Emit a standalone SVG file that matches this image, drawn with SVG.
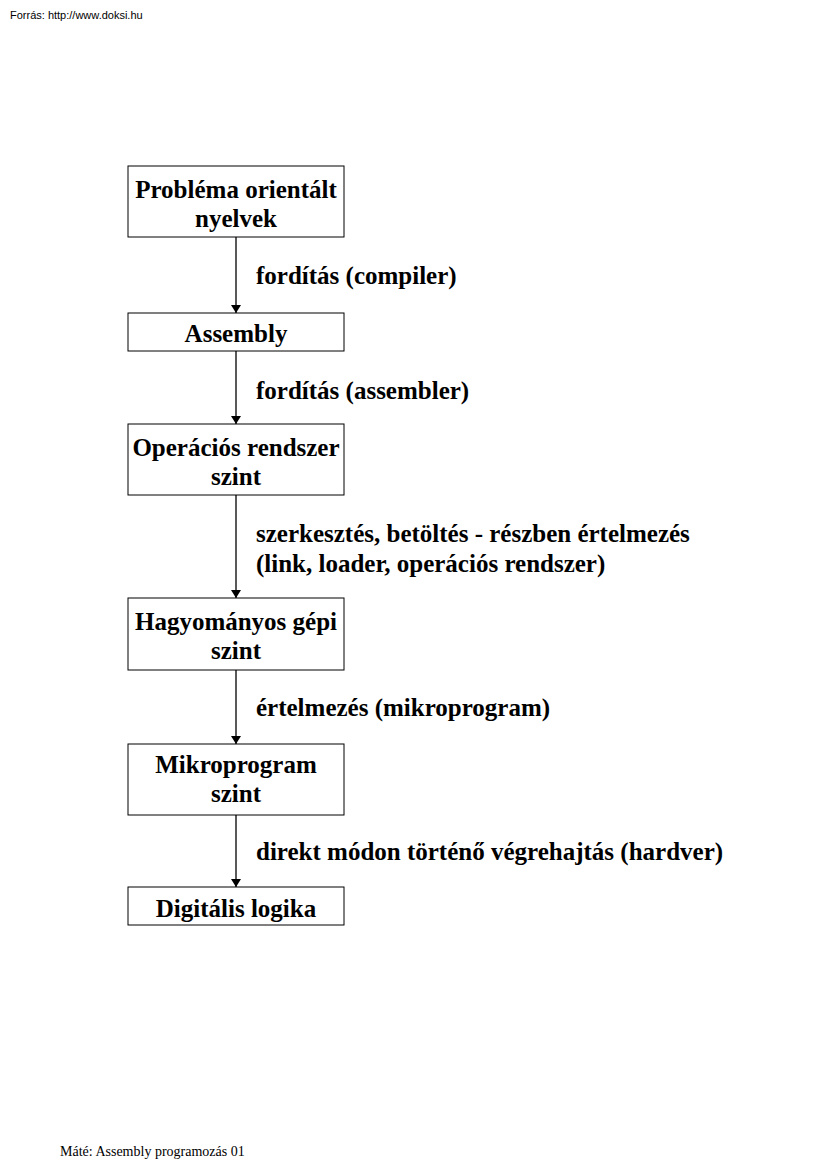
<svg xmlns="http://www.w3.org/2000/svg" width="827" height="1170" viewBox="0 0 827 1170">
<style>
.box{fill:#fff;stroke:#000;stroke-width:1}
.t{font-family:"Liberation Serif",serif;font-weight:bold;font-size:25px;fill:#000}
.c{text-anchor:middle}
.ln{stroke:#000;stroke-width:1.3;fill:none}
</style>
<defs>
<marker id="ah" markerWidth="8" markerHeight="10" refX="8" refY="5" orient="auto" markerUnits="userSpaceOnUse">
<path d="M0,0 L8,5 L0,10 Z" fill="#000"/>
</marker>
</defs>
<rect width="827" height="1170" fill="#fff"/>
<text x="10" y="19" font-family="Liberation Sans,sans-serif" font-size="11">Forrás: http://www.doksi.hu</text>
<g id="connectors">
<line class="ln" x1="236" y1="237" x2="236" y2="313" marker-end="url(#ah)"/>
<line class="ln" x1="236" y1="351" x2="236" y2="424" marker-end="url(#ah)"/>
<line class="ln" x1="236" y1="495" x2="236" y2="598" marker-end="url(#ah)"/>
<line class="ln" x1="236" y1="670" x2="236" y2="744" marker-end="url(#ah)"/>
<line class="ln" x1="236" y1="815" x2="236" y2="887" marker-end="url(#ah)"/>
<text class="t" x="256" y="284">fordítás (compiler)</text>
<text class="t" x="256" y="399">fordítás (assembler)</text>
<text class="t" x="256" y="542">szerkesztés, betöltés - részben értelmezés</text>
<text class="t" x="256" y="572">(link, loader, operációs rendszer)</text>
<text class="t" x="256" y="716">értelmezés (mikroprogram)</text>
<text class="t" x="256" y="860">direkt módon történő végrehajtás (hardver)</text>
</g>
<g id="n1"><rect class="box" x="128" y="166" width="216" height="71"/>
<text class="t c" x="236" y="198">Probléma orientált</text><text class="t c" x="236" y="227">nyelvek</text></g>
<g id="n2"><rect class="box" x="128" y="313" width="216" height="38"/>
<text class="t c" x="236" y="342">Assembly</text></g>
<g id="n3"><rect class="box" x="128" y="424" width="216" height="71"/>
<text class="t c" x="236" y="456">Operációs rendszer</text><text class="t c" x="236" y="485">szint</text></g>
<g id="n4"><rect class="box" x="128" y="598" width="216" height="72"/>
<text class="t c" x="236" y="630">Hagyományos gépi</text><text class="t c" x="236" y="659">szint</text></g>
<g id="n5"><rect class="box" x="128" y="744" width="216" height="71"/>
<text class="t c" x="236" y="773">Mikroprogram</text><text class="t c" x="236" y="802">szint</text></g>
<g id="n6"><rect class="box" x="128" y="887" width="216" height="38"/>
<text class="t c" x="236" y="917">Digitális logika</text></g>
<text x="60" y="1156" font-family="Liberation Serif,serif" font-size="14">Máté: Assembly programozás 01</text>
</svg>
